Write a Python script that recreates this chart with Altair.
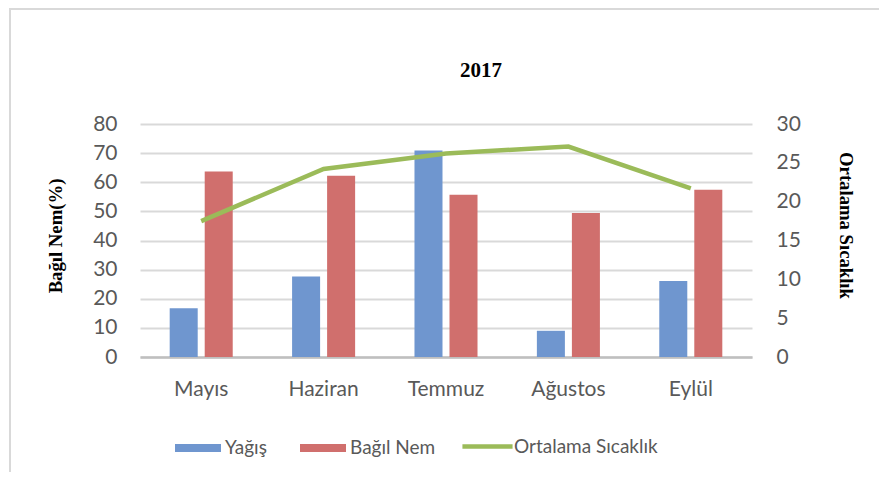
import altair as alt
import pandas as pd

# ---- data ----
months = ["Mayıs", "Haziran", "Temmuz", "Ağustos", "Eylül"]
yagis = [16.7, 27.6, 70.9, 9.0, 26.1]          # Yağış (left axis)
bagil_nem = [63.7, 62.2, 55.7, 49.4, 57.4]     # Bağıl Nem (left axis)
sicaklik = [17.5, 24.2, 26.2, 27.1, 21.7]      # Ortalama Sıcaklık (right axis)
bar_series = ["Yağış", "Bağıl Nem"]
line_series = ["Ortalama Sıcaklık"]
chart_title = ["2017"]
left_title = "Bağıl Nem(%)"
right_title = "Ortalama Sıcaklık"
left_ticks = [0, 10, 20, 30, 40, 50, 60, 70, 80]
right_ticks = [0, 5, 10, 15, 20, 25, 30]

# ---- styling ----
W, H = 612, 233
BLUE, RED, GREEN = "#6f96cf", "#d06f6d", "#9bbb59"
LABEL_COLOR = "#595959"
SANS = "Lato"
SERIF = "Liberation Serif"

bar_df = pd.DataFrame({
    "month": months * 2,
    "series": [bar_series[0]] * len(months) + [bar_series[1]] * len(months),
    "value": yagis + bagil_nem,
})
line_df = pd.DataFrame({"month": months, "series": line_series * len(months), "temp": sicaklik})
title_df = pd.DataFrame({"t": chart_title})
frame_df = pd.DataFrame({"k": [0]})

x_enc = alt.X(
    "month:N", sort=months,
    scale=alt.Scale(domain=months, paddingInner=0.485, paddingOuter=0.2426),
    axis=alt.Axis(title=None, labelAngle=0, labelFont=SANS, labelFontSize=21,
                  labelColor=LABEL_COLOR, labelPadding=21, ticks=False,
                  domainColor="#bfbfbf", domainWidth=2.5, grid=False),
)

bars = alt.Chart(bar_df).mark_bar().encode(
    x=x_enc,
    xOffset=alt.XOffset("series:N", sort=bar_series,
                        scale=alt.Scale(domain=bar_series, paddingInner=0.2, paddingOuter=0)),
    y=alt.Y("value:Q", scale=alt.Scale(domain=[0, 80]),
            axis=alt.Axis(values=left_ticks, title=left_title, orient="left",
                          grid=True, gridColor="#d9d9d9", gridWidth=1.8,
                          domain=False, ticks=False, labelFont=SANS, labelFontSize=21,
                          labelColor=LABEL_COLOR, labelPadding=23,
                          titleFont=SERIF, titleFontSize=18.7, titleFontWeight="bold",
                          titleColor="black", titleAngle=-90, titleX=-85, titleY=111.5,
                          titleAlign="center", titleBaseline="middle")),
    color=alt.Color("series:N", sort=bar_series,
                    scale=alt.Scale(domain=bar_series, range=[BLUE, RED]),
                    legend=alt.Legend(orient="none", legendX=35, legendY=301,
                                      direction="horizontal", title=None,
                                      symbolType="M-1,-0.17H1V0.17H-1Z", symbolSize=2116,
                                      symbolStrokeWidth=0, labelFont=SANS, labelFontSize=19,
                                      labelColor=LABEL_COLOR, labelOffset=4, columnPadding=33)),
)

line = alt.Chart(line_df).mark_line(strokeWidth=4.5).encode(
    x=alt.X("month:N", sort=months),
    y=alt.Y("temp:Q", scale=alt.Scale(domain=[0, 30]),
            axis=alt.Axis(values=right_ticks, title=right_title, orient="right",
                          grid=False, domain=False, ticks=False,
                          labelFont=SANS, labelFontSize=21, labelColor=LABEL_COLOR,
                          labelPadding=24, titleFont=SERIF, titleFontSize=18.7,
                          titleFontWeight="bold", titleColor="black", titleAngle=90,
                          titleX=93, titleY=101, titleAlign="center",
                          titleBaseline="middle")),
    stroke=alt.Stroke("series:N",
                      scale=alt.Scale(domain=line_series, range=[GREEN]),
                      legend=alt.Legend(orient="none", legendX=322, legendY=297,
                                        direction="horizontal", title=None,
                                        symbolType="M-1.09,0H1.09", symbolSize=2116,
                                        symbolStrokeWidth=4.5, labelFont=SANS,
                                        labelFontSize=19, labelColor=LABEL_COLOR,
                                        labelOffset=1)),
)

title_mark = alt.Chart(title_df).mark_text(
    font=SERIF, fontSize=21, fontWeight="bold", color="black",
    align="center", baseline="alphabetic",
).encode(x=alt.value(341), y=alt.value(-47), text="t:N")

frame = alt.Chart(frame_df).mark_rect(
    fill="white", fillOpacity=0, stroke="#d9d9d9", strokeWidth=2,
).encode(x=alt.value(-130), x2=alt.value(W + 200), y=alt.value(-115), y2=alt.value(H + 200))

chart = alt.layer(frame, bars, line, title_mark).resolve_scale(
    y="independent", color="independent", stroke="independent"
).properties(
    width=W, height=H,
    autosize=alt.AutoSizeParams(type="none"),
    padding={"left": 132, "top": 116, "right": 127, "bottom": 115},
    background="white",
).configure_view(stroke=None)

chart.save("out.html", embed_options={"renderer": "svg", "actions": False})
